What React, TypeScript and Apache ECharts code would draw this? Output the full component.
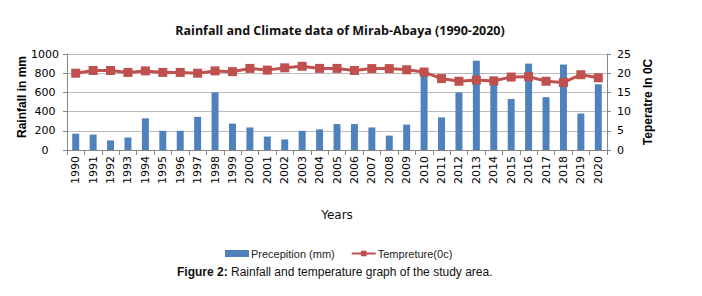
import React, { useEffect, useRef } from "react";
import * as echarts from "echarts";

const years = ["1990","1991","1992","1993","1994","1995","1996","1997","1998","1999","2000","2001","2002","2003","2004","2005","2006","2007","2008","2009","2010","2011","2012","2013","2014","2015","2016","2017","2018","2019","2020"];
const precipitation = [170,160,100,130,330,200,200,345,600,275,235,140,110,200,215,270,270,235,150,265,800,340,600,930,760,530,900,550,890,380,685];
const temperature = [20.0,20.7,20.7,20.2,20.6,20.2,20.2,20.0,20.6,20.4,21.25,20.8,21.4,21.8,21.25,21.25,20.7,21.2,21.2,20.9,20.3,18.6,17.9,18.2,18.0,19.0,19.1,17.9,17.6,19.6,18.8];

export default function App() {
  const ref = useRef<HTMLDivElement>(null);
  useEffect(() => {
    if (!ref.current) return;
    const chart = echarts.init(ref.current, null, { renderer: "svg" });
    const axisFont = { fontFamily: "DejaVu Sans", fontSize: 11, color: "#000" };
    chart.setOption({
      animation: false,
      backgroundColor: "#fff",
      title: {
        text: "Rainfall and Climate data of Mirab-Abaya (1990-2020)",
        left: 335, top: 19, textAlign: "center",
        textStyle: { fontFamily: "Open Sans", fontWeight: "bold", fontSize: 12.5, color: "#111" },
      },
      legend: {
        top: 243, left: 220, itemGap: 16, itemWidth: 24, itemHeight: 7,
        textStyle: { fontFamily: "Liberation Sans", fontSize: 11, color: "#222", padding: [0, 0, 0, -3] },
        data: [
          { name: "Precepition (mm)", icon: "rect" },
          { name: "Tempreture(0c)" },
        ],
      },
      grid: { left: 67, right: 95, top: 54, bottom: 146 },
      xAxis: {
        type: "category", data: years, boundaryGap: true,
        name: "Years", nameLocation: "middle", nameGap: 59, nameMoveOverlap: false,
        nameTextStyle: { fontFamily: "DejaVu Sans", fontSize: 12, color: "#111" },
        axisLine: { lineStyle: { color: "#888" } },
        axisTick: { show: true, interval: 0, length: 5, lineStyle: { color: "#888" } },
        axisLabel: { ...axisFont, rotate: 90, interval: 0, margin: 6 },
      },
      yAxis: [
        {
          type: "value", min: 0, max: 1000, interval: 200,
          name: "Rainfall in mm", nameLocation: "middle", nameGap: 39, nameMoveOverlap: false,
          nameTextStyle: { fontFamily: "Liberation Sans", fontWeight: "bold", fontSize: 12, color: "#000", padding: [0, 0, 0, 10] },
          axisLine: { show: true, lineStyle: { color: "#888" } },
          axisTick: { show: true, length: 4, lineStyle: { color: "#888" } },
          splitLine: { lineStyle: { color: "#bbb" } },
          axisLabel: { ...axisFont, margin: 22, align: "center", formatter: (v: number) => String(v) },
        },
        {
          type: "value", min: 0, max: 25, interval: 5,
          name: "Teperatre In 0C", nameLocation: "middle", nameGap: 35, nameMoveOverlap: false,
          nameTextStyle: { fontFamily: "Liberation Sans", fontWeight: "bold", fontSize: 12, color: "#000" },
          axisLine: { show: true, lineStyle: { color: "#888" } },
          axisTick: { show: true, length: 4, lineStyle: { color: "#888" } },
          splitLine: { show: false },
          axisLabel: { ...axisFont, margin: 10 },
        },
      ],
      series: [
        {
          name: "Precepition (mm)", type: "bar", data: precipitation, yAxisIndex: 0,
          barWidth: "40%", itemStyle: { color: "#4f81bd" },
        },
        {
          name: "Tempreture(0c)", type: "line", data: temperature, yAxisIndex: 1,
          symbol: "rect", symbolSize: 9,
          lineStyle: { color: "#c0504d", width: 3 },
          itemStyle: { color: "#c0504d" },
        },
      ],
      graphic: [
        {
          type: "text", left: 177, top: 266,
          style: {
            text: "{b|Figure 2:} Rainfall and temperature graph of the study area.",
            rich: { b: { fontWeight: "bold", fontFamily: "Liberation Sans", fontSize: 12, fill: "#111" } },
            fontFamily: "Liberation Sans", fontSize: 12, fill: "#111",
          },
        },
      ],
    });
    return () => chart.dispose();
  }, []);
  return <div ref={ref} style={{ position: "absolute", left: 0, top: 0, width: 702, height: 296 }} />;
}
